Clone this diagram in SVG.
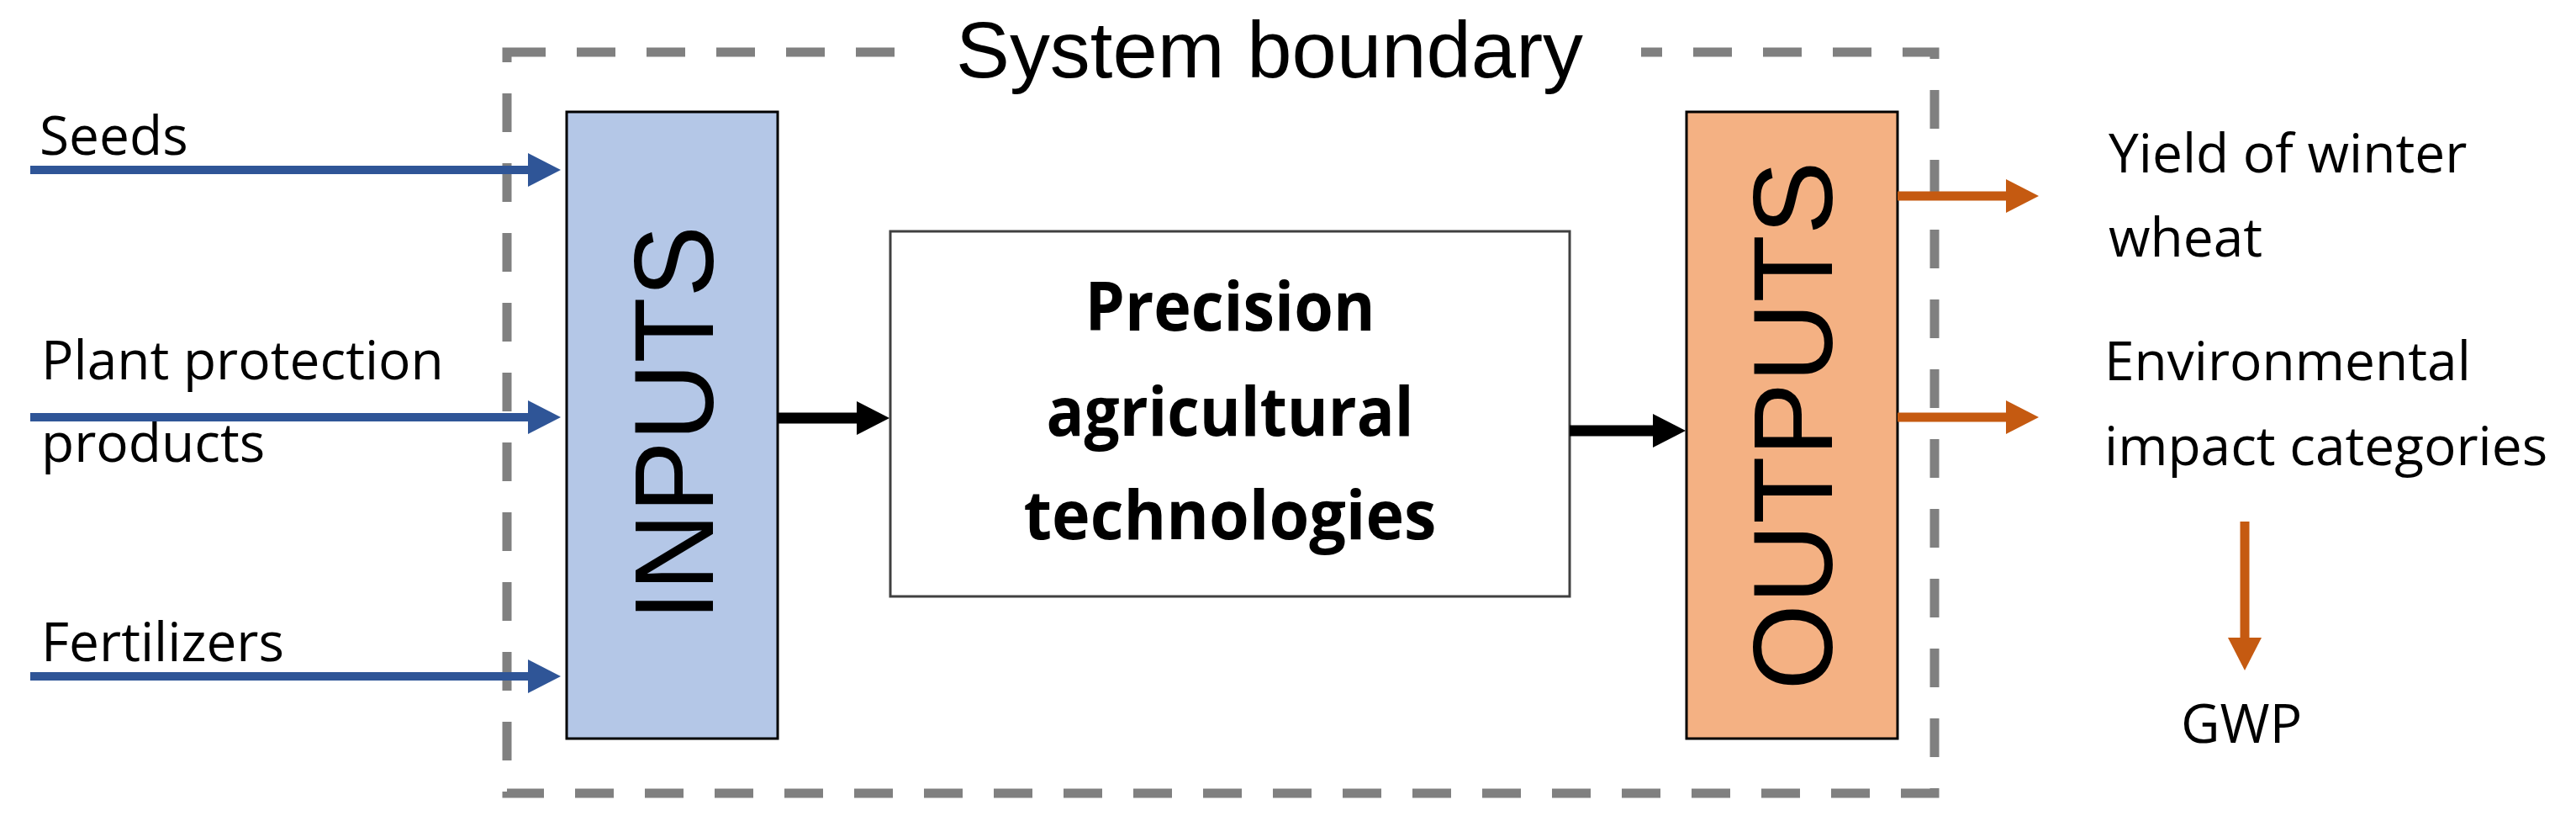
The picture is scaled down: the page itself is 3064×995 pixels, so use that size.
<svg xmlns="http://www.w3.org/2000/svg" width="3064" height="995" viewBox="0 0 3064 995">
<style>
.lbl{font-family:"Open Sans","Noto Sans",sans-serif;font-size:64px;fill:#000}
.ctr{font-family:"Open Sans","Noto Sans",sans-serif;font-size:80px;font-weight:bold;fill:#000;text-anchor:middle}
.big{font-family:"Liberation Sans",Arial,sans-serif;font-size:134px;fill:#000;text-anchor:middle}
.sys{font-family:"Liberation Sans",Arial,sans-serif;font-size:94px;fill:#000}
.blue{stroke:#2f5597;stroke-width:10;fill:none}
.blk{stroke:#000;stroke-width:13;fill:none}
.org{stroke:#c55a11;stroke-width:11;fill:none}
</style>
<defs>
<marker id="mb" markerUnits="userSpaceOnUse" markerWidth="42" markerHeight="42" refX="3" refY="20" orient="auto"><path d="M0,0 L39,20 L0,40 Z" fill="#2f5597"/></marker>
<marker id="mk" markerUnits="userSpaceOnUse" markerWidth="42" markerHeight="42" refX="3" refY="20" orient="auto"><path d="M0,0 L39,20 L0,40 Z" fill="#000"/></marker>
<marker id="mo" markerUnits="userSpaceOnUse" markerWidth="42" markerHeight="42" refX="3" refY="20" orient="auto"><path d="M0,0 L39,20 L0,40 Z" fill="#c55a11"/></marker>
</defs>
<rect width="3064" height="995" fill="#fff"/>
<g id="boundary">
<path d="M603,62 H2301 V943 H603 Z" fill="none" stroke="#808080" stroke-width="11" stroke-dasharray="46 37"/>
<rect x="1068" y="48" width="884" height="28" fill="#fff"/>
<text class="sys" x="1137" y="92" textLength="746" lengthAdjust="spacingAndGlyphs">System boundary</text>
</g>
<g id="inputs">
<rect x="674" y="133" width="251" height="745" fill="#b4c7e7" stroke="#000" stroke-width="3"/>
<text class="big" transform="translate(848,503) rotate(-90)" textLength="470" lengthAdjust="spacingAndGlyphs">INPUTS</text>
</g>
<g id="pat">
<rect x="1059" y="275" width="808" height="434" fill="#fff" stroke="#404040" stroke-width="3"/>
<text class="ctr" x="1463" y="393" textLength="345" lengthAdjust="spacingAndGlyphs">Precision</text>
<text class="ctr" x="1463" y="518" textLength="437" lengthAdjust="spacingAndGlyphs">agricultural</text>
<text class="ctr" x="1463" y="641" textLength="491" lengthAdjust="spacingAndGlyphs">technologies</text>
</g>
<g id="outputs">
<rect x="2006" y="133" width="251" height="745" fill="#f4b183" stroke="#000" stroke-width="3"/>
<text class="big" transform="translate(2179,506) rotate(-90)" textLength="629" lengthAdjust="spacingAndGlyphs">OUTPUTS</text>
</g>
<g id="labels">
<text class="lbl" x="47" y="184">Seeds</text>
<text class="lbl" x="49" y="451">Plant protection</text>
<text class="lbl" x="49" y="549">products</text>
<text class="lbl" x="49" y="786">Fertilizers</text>
<text class="lbl" x="2508" y="205">Yield of winter</text>
<text class="lbl" x="2508" y="305">wheat</text>
<text class="lbl" x="2503" y="452">Environmental</text>
<text class="lbl" x="2503" y="553">impact categories</text>
<text class="lbl" x="2594" y="883">GWP</text>
</g>
<g id="connectors">
<line class="blue" x1="36" y1="202" x2="631" y2="202" marker-end="url(#mb)"/>
<line class="blue" x1="36" y1="496" x2="631" y2="496" marker-end="url(#mb)"/>
<line class="blue" x1="36" y1="804" x2="631" y2="804" marker-end="url(#mb)"/>
<line class="blk" x1="925" y1="497" x2="1022" y2="497" marker-end="url(#mk)"/>
<line class="blk" x1="1867" y1="512" x2="1969" y2="512" marker-end="url(#mk)"/>
<line class="org" x1="2257" y1="233" x2="2389" y2="233" marker-end="url(#mo)"/>
<line class="org" x1="2257" y1="496" x2="2389" y2="496" marker-end="url(#mo)"/>
<line class="org" x1="2670" y1="620" x2="2670" y2="761" marker-end="url(#mo)"/>
</g>
</svg>
